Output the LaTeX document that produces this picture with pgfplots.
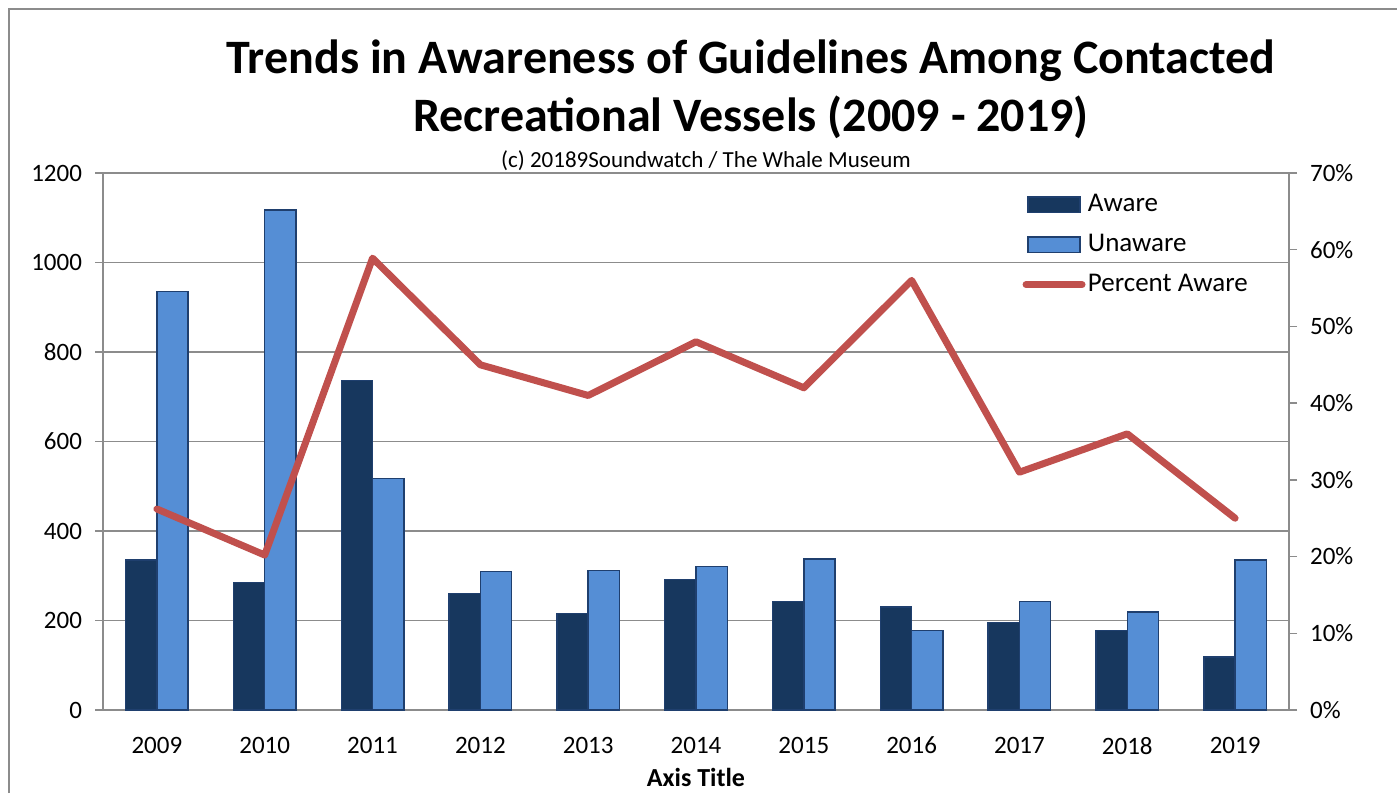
\documentclass[border=0pt]{standalone}
\usepackage{fontspec}
\setmainfont{Carlito}
\usepackage{pgfplots}
\usepackage{pgfplotstable}
\pgfplotsset{compat=1.18}

\definecolor{aware}{HTML}{17375E}
\definecolor{unaware}{HTML}{558ED5}
\definecolor{edge}{HTML}{1F3F6E}
\definecolor{pct}{HTML}{C0504D}
\definecolor{gridc}{HTML}{8C8C8C}

% year index, aware, unaware, percent aware
\pgfplotstableread{
x year aware unaware pct
0 2009 335 935 26.2
1 2010 285 1117 20.2
2 2011 736 517 58.9
3 2012 261 310 45.0
4 2013 216 312 41.0
5 2014 292 321 48.0
6 2015 243 337 42.0
7 2016 230 178 56.0
8 2017 196 243 31.0
9 2018 178 219 36.0
10 2019 118 335 25.0
}\data

\pgfplotsset{
  common/.style={
    at={(51.5pt,41.5pt)}, anchor=south west,
    width=593pt, height=268.5pt, scale only axis,
    xmin=-0.5, xmax=10.5,
    tick align=outside, major tick length=4pt,
    tick style={gridc, line width=0.75pt},
    axis line style={gridc, line width=0.75pt},
    /pgf/number format/assume math mode=true,
    /pgf/number format/1000 sep={},
    ticklabel style={font=\fontsize{12.5}{14}\selectfont, text=black},
  },
  barlegend/.style={legend image code/.code={\draw[##1] (0pt,-3.8pt) rectangle (26pt,3.8pt);}},
  linelegend/.style={legend image code/.code={\draw[##1] (-1pt,0pt) -- (27pt,0pt);}},
}

\begin{document}
\begin{tikzpicture}
\useasboundingbox (0,0) rectangle (698.5pt,396.5pt);
\draw[gridc, line width=0.75pt] (4.5pt,0pt) -- (4.5pt,392pt) -- (698.5pt,392pt);

\begin{axis}[common,
  ymin=0, ymax=1200, ytick={0,200,...,1200},
  axis y line*=left, axis x line*=bottom,
  ymajorgrids, grid style={gridc, line width=0.75pt},
  xtick={0,...,10},
  xticklabels={2009,2010,2011,2012,2013,2014,2015,2016,2017,2018,2019},
  x tick style={draw=none},
  xticklabel style={yshift=-6pt},
  extra x ticks={-0.5,0.5,...,10.5},
  extra x tick labels={},
  extra x tick style={grid=none, tick style={gridc, line width=0.75pt, draw=gridc}},
  yticklabel style={xshift=-3pt},
  legend style={draw=none, fill=none, at={(0.775,0.968)}, anchor=north west,
    font=\fontsize{13.5}{15}\selectfont, row sep=5.8pt, inner sep=0pt,
    nodes={inner xsep=1.2pt}},
  legend cell align=left,
]
\addplot[ybar, bar width=0.29, bar shift=-0.145, fill=aware, draw=edge, line width=0.7pt, barlegend]
  table[x=x, y=aware]{\data};
\addlegendentry{Aware}
\addplot[ybar, bar width=0.29, bar shift=0.145, fill=unaware, draw=edge, line width=0.7pt, barlegend]
  table[x=x, y=unaware]{\data};
\addlegendentry{Unaware}
\addlegendimage{pct, line width=3.5pt, line cap=round, linelegend}
\addlegendentry{Percent Aware}
\end{axis}

\begin{axis}[common,
  ymin=0, ymax=70, ytick={0,10,...,70},
  axis y line*=right, axis x line=none,
  yticklabel={\pgfmathprintnumber{\tick}\%},
  yticklabel style={xshift=3pt},
]
\addplot[pct, line width=3.5pt, line join=round, line cap=round]
  table[x=x, y=pct]{\data};
\end{axis}

\node[font=\bfseries\fontsize{24}{29}\selectfont, align=center, anchor=center]
  at (375.5pt,352pt) {Trends in Awareness of Guidelines Among Contacted\\Recreational Vessels (2009 - 2019)};
\node[font=\fontsize{11.5}{13}\selectfont] at (353pt,316pt) {(c) 20189Soundwatch / The Whale Museum};
\node[font=\bfseries\fontsize{13}{15}\selectfont] at (348pt,8pt) {Axis Title};
\end{tikzpicture}
\end{document}
